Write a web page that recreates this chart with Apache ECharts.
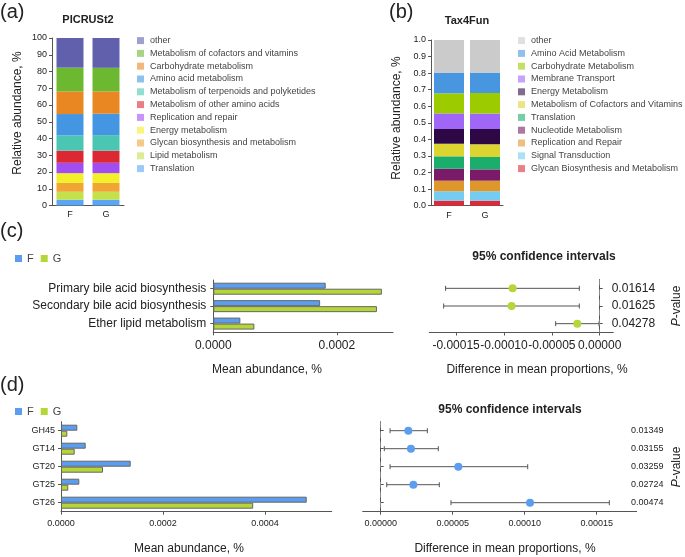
<!DOCTYPE html>
<html><head><meta charset="utf-8">
<script src="https://cdn.jsdelivr.net/npm/echarts@6/dist/echarts.min.js"></script>
<style>html,body{margin:0;padding:0;background:#fff}#c{width:685px;height:557px}</style>
</head><body><div id="c"></div>
<script>
// ---------- DATA ----------
const groups = ['F', 'G'];
// Panel (a) PICRUSt2 (bottom -> top)
const picrustNames = ['Translation', 'Lipid metabolism', 'Glycan biosynthesis and metabolism', 'Energy metabolism', 'Replication and repair', 'Metabolism of other amino acids', 'Metabolism of terpenoids and polyketides', 'Amino acid metabolism', 'Carbohydrate metabolism', 'Metabolism of cofactors and vitamins', 'other'];
const picrustF = [3.4, 4.8, 5.3, 5.8, 6.2, 7.2, 9.1, 12.8, 13.5, 14.2, 17.7];
const picrustG = [3.4, 4.8, 5.3, 5.8, 6.2, 7.2, 9.3, 12.8, 13.3, 14.1, 17.8];
const picrustTicks = [0, 10, 20, 30, 40, 50, 60, 70, 80, 90, 100];
// Panel (b) Tax4Fun (bottom -> top)
const taxNames = ['Glycan Biosynthesis and Metabolism', 'Signal Transduction', 'Replication and Repair', 'Nucleotide Metabolism', 'Translation', 'Metabolism of Cofactors and Vitamins', 'Energy Metabolism', 'Membrane Transport', 'Carbohydrate Metabolism', 'Amino Acid Metabolism', 'other'];
const taxF = [0.030, 0.057, 0.064, 0.072, 0.075, 0.076, 0.089, 0.094, 0.121, 0.125, 0.197];
const taxG = [0.030, 0.057, 0.064, 0.068, 0.075, 0.077, 0.092, 0.093, 0.124, 0.123, 0.197];
// Panel (c)
const cCats = ['Primary bile acid biosynthesis', 'Secondary bile acid biosynthesis', 'Ether lipid metabolism'];
const cMeanF = [0.000182, 0.000173, 0.0000438];
const cMeanG = [0.000273, 0.000265, 0.0000665];
const cDiff = [-0.0000910, -0.0000921, -0.0000234];
const cLow = [-0.000161, -0.000163, -0.000046];
const cHigh = [-0.0000213, -0.0000213, -0.0000007];
const cPvals = ['0.01614', '0.01625', '0.04278'];
const cBarTicks = [0, 0.0002];
const cCiTicks = [-0.00015, -0.0001, -0.00005, 0];
// Panel (d)
const dCats = ['GH45', 'GT14', 'GT20', 'GT25', 'GT26'];
const dMeanF = [0.0000320, 0.0000484, 0.0001367, 0.0000359, 0.000482];
const dMeanG = [0.0000124, 0.0000268, 0.0000824, 0.0000143, 0.000377];
const dDiff = [0.0000192, 0.0000210, 0.0000539, 0.0000227, 0.0001037];
const dLow = [0.0000065, 0.0000025, 0.0000065, 0.0000042, 0.0000488];
const dHigh = [0.0000324, 0.0000400, 0.0001021, 0.0000407, 0.0001588];
const dPvals = ['0.01349', '0.03155', '0.03259', '0.02724', '0.00474'];
const dBarTicks = [0, 0.0002, 0.0004];
const dCiTicks = [0, 0.00005, 0.0001, 0.00015];

// ---------- STYLE ----------
const FONT = '"Liberation Sans", Arial, Helvetica, sans-serif';
const picrustColors = ['#5aa6f6', '#c4e04d', '#efa632', '#f3f02a', '#a14df2', '#dc2833', '#4bc6b3', '#4496e2', '#e98723', '#6cb831', '#6060ac'];
const taxColors = ['#de2a38', '#74ccf0', '#df962a', '#7a1a68', '#1bad6c', '#dcd430', '#2d0844', '#a066f8', '#9ccc00', '#4896e0', '#cbcbcb'];
const colF = '#5b9ef0', colG = '#b5d637';
const AX = '#555';

const chart = echarts.init(document.getElementById('c'), null, {renderer: 'canvas'});

function txt(s, x, y, size, opts) {
  opts = opts || {};
  return {type: 'text', x: x, y: y, rotation: opts.rot || 0, silent: true,
    style: Object.assign({text: s, fontFamily: FONT, fontSize: size, fontWeight: opts.bold ? 'bold' : 'normal',
      fill: opts.color || '#222', align: opts.align || 'center', verticalAlign: 'middle'}, opts.style || {})};
}

function valAxis(grid, min, max, ticks, dec, size) {
  return {type: 'value', gridIndex: grid, min: min, max: max,
    axisLine: {show: true, lineStyle: {color: AX, width: 1}},
    axisTick: {show: true, length: 3, lineStyle: {color: AX}, customValues: ticks},
    axisLabel: {show: true, fontFamily: FONT, fontSize: size, color: '#222', margin: 7,
      customValues: ticks, formatter: v => Number(v).toFixed(dec)},
    splitLine: {show: false}};
}
function catAxis(grid, data, size, extra) {
  return Object.assign({type: 'category', gridIndex: grid, data: data, inverse: true,
    axisLine: {show: true, lineStyle: {color: AX}},
    axisTick: {show: true, alignWithLabel: true, length: 3, lineStyle: {color: AX}},
    axisLabel: {fontFamily: FONT, fontSize: size, color: '#222', margin: 6},
    splitLine: {show: false}}, extra || {});
}

const series = [];
picrustNames.forEach((n, i) => series.push({type: 'bar', name: n, stack: 'a', xAxisIndex: 0, yAxisIndex: 0,
  barWidth: 27, data: [picrustF[i], picrustG[i]], itemStyle: {color: picrustColors[i]}, emphasis: {disabled: true}}));
taxNames.forEach((n, i) => series.push({type: 'bar', name: n, stack: 'b', xAxisIndex: 1, yAxisIndex: 1,
  barWidth: 30, data: [taxF[i], taxG[i]], itemStyle: {color: taxColors[i]}, emphasis: {disabled: true}}));

const barStyle = c => ({color: c, borderColor: '#666', borderWidth: 1});
series.push({type: 'bar', name: 'F', xAxisIndex: 2, yAxisIndex: 2, barWidth: 6, barGap: '0%', data: cMeanF, itemStyle: barStyle(colF)});
series.push({type: 'bar', name: 'G', xAxisIndex: 2, yAxisIndex: 2, barWidth: 6, barGap: '0%', data: cMeanG, itemStyle: barStyle(colG)});
series.push({type: 'bar', name: 'F', xAxisIndex: 4, yAxisIndex: 4, barWidth: 6, barGap: '0%', data: dMeanF, itemStyle: barStyle(colF)});
series.push({type: 'bar', name: 'G', xAxisIndex: 4, yAxisIndex: 4, barWidth: 6, barGap: '0%', data: dMeanG, itemStyle: barStyle(colG)});

function errSeries(xi, lows, highs) {
  return {type: 'custom', xAxisIndex: xi, yAxisIndex: xi, silent: true, z: 3,
    data: lows.map((l, i) => [l, highs[i], i]),
    encode: {x: [0, 1], y: 2},
    renderItem: (params, api) => {
      const lo = api.coord([api.value(0), api.value(2)]);
      const hi = api.coord([api.value(1), api.value(2)]);
      const h = 2.5, st = {stroke: '#555', lineWidth: 1};
      return {type: 'group', children: [
        {type: 'line', shape: {x1: lo[0], y1: lo[1], x2: hi[0], y2: hi[1]}, style: st},
        {type: 'line', shape: {x1: lo[0], y1: lo[1] - h, x2: lo[0], y2: lo[1] + h}, style: st},
        {type: 'line', shape: {x1: hi[0], y1: hi[1] - h, x2: hi[0], y2: hi[1] + h}, style: st}]};
    }};
}
function dotSeries(xi, vals, color) {
  return {type: 'scatter', xAxisIndex: xi, yAxisIndex: xi, z: 4, symbolSize: 8,
    data: vals.map((v, i) => [v, i]), itemStyle: {color: color, opacity: 1}, silent: true,
    markLine: {silent: true, symbol: 'none', label: {show: false}, animation: false,
      lineStyle: {color: '#888', type: [6, 4], width: 1}, data: [{xAxis: 0}]}};
}
series.push(errSeries(3, cLow, cHigh), dotSeries(3, cDiff, colG));
series.push(errSeries(5, dLow, dHigh), dotSeries(5, dDiff, colF));

const legendBase = {orient: 'vertical', padding: 0, itemWidth: 7, itemHeight: 7, itemGap: 3.6, icon: 'rect',
  selectedMode: false, itemStyle: {opacity: 0.6},
  textStyle: {fontFamily: FONT, fontSize: 9, color: '#444', lineHeight: 9.2, padding: [0, 0, 0, 1]}};

const option = {
  animation: false,
  backgroundColor: '#fff',
  textStyle: {fontFamily: FONT},
  grid: [
    {left: 52, top: 38, width: 72, height: 167.5},
    {left: 431, top: 40, width: 72, height: 165.7},
    {left: 213.3, top: 280, width: 179.7, height: 52.3},
    {left: 429.3, top: 279.5, width: 184, height: 53},
    {left: 61, top: 421.7, width: 270.7, height: 90},
    {left: 362.7, top: 421.7, width: 274, height: 90}
  ],
  legend: [
    Object.assign({}, legendBase, {left: 137, top: 36,
      data: picrustNames.slice().reverse().map(n => ({name: n, itemStyle: {color: picrustColors[picrustNames.indexOf(n)]}}))}),
    Object.assign({}, legendBase, {left: 518, top: 36,
      data: taxNames.slice().reverse().map(n => ({name: n, itemStyle: {color: taxColors[taxNames.indexOf(n)]}}))}),
    {orient: 'horizontal', padding: 0, left: 15, top: 253, itemWidth: 7, itemHeight: 7, itemGap: 7, icon: 'rect', selectedMode: false,
      textStyle: {fontFamily: FONT, fontSize: 11, color: '#444'},
      data: [{name: 'F', itemStyle: {color: colF, borderWidth: 0}}, {name: 'G', itemStyle: {color: colG, borderWidth: 0}}]},
    {orient: 'horizontal', padding: 0, left: 15, top: 406, itemWidth: 7, itemHeight: 7, itemGap: 7, icon: 'rect', selectedMode: false,
      textStyle: {fontFamily: FONT, fontSize: 11, color: '#444'},
      data: [{name: 'F', itemStyle: {color: colF, borderWidth: 0}}, {name: 'G', itemStyle: {color: colG, borderWidth: 0}}]}
  ],
  xAxis: [
    {type: 'category', gridIndex: 0, data: groups, axisLine: {lineStyle: {color: AX}}, axisTick: {alignWithLabel: true, length: 3, lineStyle: {color: AX}},
      axisLabel: {fontFamily: FONT, fontSize: 9, color: '#222', margin: 5}},
    {type: 'category', gridIndex: 1, data: groups, axisLine: {lineStyle: {color: AX}}, axisTick: {alignWithLabel: true, length: 3, lineStyle: {color: AX}},
      axisLabel: {fontFamily: FONT, fontSize: 9, color: '#222', margin: 5}},
    valAxis(2, 0, 0.000291, cBarTicks, 4, 12),
    valAxis(3, -0.000178, 0.0000142, cCiTicks, 5, 12),
    valAxis(4, 0, 0.000531, dBarTicks, 4, 9),
    valAxis(5, -0.0000125, 0.0001778, dCiTicks, 5, 9)
  ],
  yAxis: [
    {type: 'value', gridIndex: 0, min: 0, max: 100, interval: 10, axisLine: {show: true, lineStyle: {color: AX}},
      axisTick: {show: true, length: 3, lineStyle: {color: AX}}, splitLine: {show: false},
      axisLabel: {fontFamily: FONT, fontSize: 9, color: '#222', margin: 5}},
    {type: 'value', gridIndex: 1, min: 0, max: 1, interval: 0.1, axisLine: {show: true, lineStyle: {color: AX}},
      axisTick: {show: true, length: 3, lineStyle: {color: AX}}, splitLine: {show: false},
      axisLabel: {fontFamily: FONT, fontSize: 9, color: '#222', margin: 5, formatter: v => v.toFixed(1)}},
    catAxis(2, cCats, 12, {axisLabel: {fontFamily: FONT, fontSize: 12, color: '#222', margin: 7}}),
    catAxis(3, cPvals, 12, {position: 'right', offset: -6.6, axisLabel: {fontFamily: FONT, fontSize: 12, color: '#222', margin: 5}}),
    catAxis(4, dCats, 9),
    catAxis(5, dPvals, 9, {position: 'right', offset: -11.7, axisLabel: {fontFamily: FONT, fontSize: 9, color: '#222', margin: 6}})
  ],
  series: series,
  graphic: [
    txt('(a)', 0, 12, 20, {align: 'left'}),
    txt('PICRUSt2', 88, 20, 11, {bold: true}),
    txt('Relative abundance, %', 18, 113, 12, {rot: Math.PI / 2}),
    txt('(b)', 389, 12, 20, {align: 'left'}),
    txt('Tax4Fun', 467, 21, 11, {bold: true}),
    txt('Relative abundance, %', 397, 118, 12, {rot: Math.PI / 2}),
    txt('(c)', 0, 231, 20, {align: 'left'}),
    txt('95% confidence intervals', 544, 257, 12, {bold: true}),
    txt('Mean abundance, %', 267, 370, 12),
    txt('Difference in mean proportions, %', 537, 370, 12),
    txt('{i|P}-value', 677, 306, 12, {rot: Math.PI / 2, style: {rich: {i: {fontStyle: 'italic', fontFamily: FONT, fontSize: 12, fill: '#222'}}}}),
    txt('(d)', 0, 385, 20, {align: 'left'}),
    txt('95% confidence intervals', 510, 410, 12, {bold: true}),
    txt('Mean abundance, %', 189, 549, 12),
    txt('Difference in mean proportions, %', 505, 549, 12),
    txt('{i|P}-value', 677, 467, 12, {rot: Math.PI / 2, style: {rich: {i: {fontStyle: 'italic', fontFamily: FONT, fontSize: 12, fill: '#222'}}}})
  ]
};
chart.setOption(option);
</script></body></html>
